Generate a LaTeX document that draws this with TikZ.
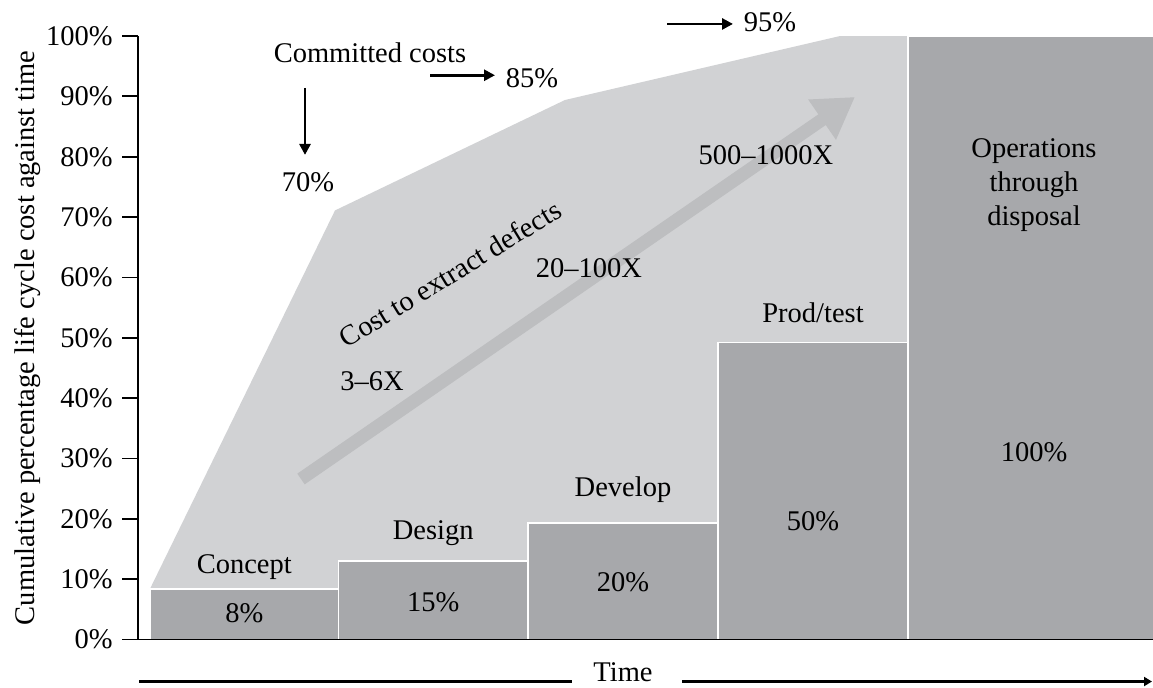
\documentclass[tikz,border=0pt]{standalone}
\usepackage{fontspec}
\setmainfont{Liberation Serif}
\usetikzlibrary{arrows.meta}

\definecolor{committedgray}{HTML}{D1D2D4}
\definecolor{defectgray}{HTML}{BDBEC0}
\definecolor{bargray}{HTML}{A7A8AB}

\tikzset{
  axisline/.style={line width=0.9pt},
  callout/.style={line width=1.4pt, -{Triangle[length=5.5pt, width=5.5pt]}},
}

% bar of one phase: name, left, right, height, title, title y, percent, percent y
\newcommand{\phaseBar}[8]{%
  \fill[bargray, draw=white, line width=0.8pt] (#2, 0) rectangle (#3, #4);
  \node[align=center] (#1-title) at ({(#2+#3)/2}, #6) {#5};
  \node (#1-pct) at ({(#2+#3)/2}, #8) {#7};
}

\begin{document}
\begin{tikzpicture}[x=0.5pt, y=3.0175pt, font=\fontsize{14.25}{17}\selectfont]
  \useasboundingbox (0, -7.87) rectangle (1153, 105.97);

  % committed costs area
  \fill[committedgray] (150, 8.4) -- (335, 71.1) -- (565, 89.4) -- (840, 100)
    -- (909, 100) -- (909, 0) -- (150, 0) -- cycle;

  % cost to extract defects
  \coordinate (dstart) at (301, 26.6);
  \coordinate (dend) at (855, 89.9);
  \draw[defectgray, line width=6.5pt, -{Triangle[length=20pt, width=23pt]}]
    (dstart) -- (dend);
  \node[rotate=31.5] (defects) at (450, 60.6) {Cost to extract defects};
  \node (x36) at (372, 42.8) {3--6X};
  \node (x20) at (589, 61.6) {20--100X};
  \node (x500) at (766, 80.3) {500--1000X};

  % phases
  \phaseBar{concept}{150}{338.5}{8.4}{Concept}{12.0}{8\%}{4.4}
  \phaseBar{design}{338.5}{528}{13.0}{Design}{17.6}{15\%}{6.2}
  \phaseBar{develop}{528}{718}{19.3}{Develop}{24.8}{20\%}{9.5}
  \phaseBar{prodtest}{718}{908}{49.2}{Prod/test}{54.1}{50\%}{19.6}
  \phaseBar{operations}{908}{1160}{100}{Operations\\through\\disposal}{75.3}{100\%}{31.1}

  % axes
  \draw[axisline] (138, 0) -- (138, 100);
  \draw[axisline] (122, 0) -- (1153, 0);
  \foreach \v in {0,10,...,100} {
    \draw[axisline] (122, \v) -- (138, \v);
    \node[anchor=east, inner sep=0pt] (tick\v) at (113, \v) {\v\%};
  }
  \node[rotate=90] (ytitle) at (28, 50) {Cumulative percentage life cycle cost against time};

  % committed costs
  \node (committed) at (370, 97.3) {Committed costs};
  \coordinate (c70a) at (305, 91.4);
  \coordinate (c70b) at (305, 80.3);
  \draw[callout] (c70a) -- (c70b);
  \node (p70) at (308, 75.8) {70\%};
  \coordinate (c85a) at (430, 93.5);
  \coordinate (c85b) at (495, 93.5);
  \draw[callout] (c85a) -- (c85b);
  \node (p85) at (532, 93.0) {85\%};
  \coordinate (c95a) at (667, 102.0);
  \coordinate (c95b) at (733, 102.0);
  \draw[callout] (c95a) -- (c95b);
  \node (p95) at (770, 102.3) {95\%};

  % time
  \coordinate (tstart) at (139, -6.96);
  \coordinate (tleft) at (572, -6.96);
  \coordinate (tright) at (682, -6.96);
  \coordinate (tend) at (1152, -6.96);
  \node[inner sep=0.5pt] (time) at (623, -5.4) {Time};
  \draw[line width=1.2pt] (tstart) -- (tleft);
  \draw[line width=1.2pt, -{Triangle[length=4pt, width=4.5pt]}] (tright) -- (tend);
\end{tikzpicture}
\end{document}
